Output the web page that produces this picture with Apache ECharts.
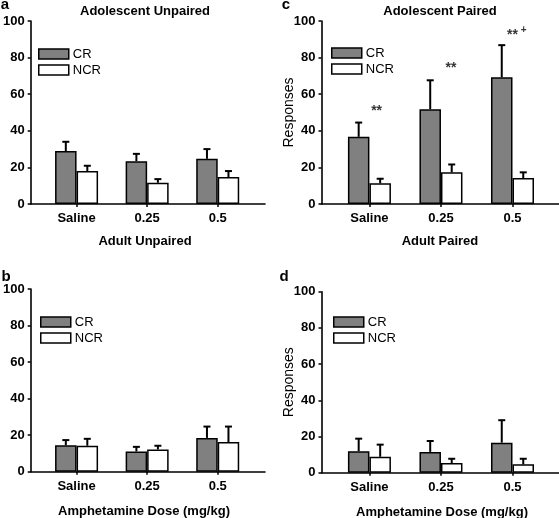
<!DOCTYPE html>
<html>
<head>
<meta charset="utf-8">
<script src="https://cdn.jsdelivr.net/npm/echarts@6/dist/echarts.min.js"></script>
<style>
html,body{margin:0;padding:0;background:#fff;}
#chart{width:559px;height:518px;}
</style>
</head>
<body>
<div id="chart"></div>
<script>
// ---- data ----
const categories = ['Saline', '0.25', '0.5'];
const legendNames = ['CR', 'NCR'];

// Panel a: Adolescent Unpaired
const aCR = [28.9, 23.4, 24.7];
const aCRsem = [5.1, 4.0, 5.3];
const aNCR = [18.0, 11.6, 14.7];
const aNCRsem = [2.9, 2.0, 3.3];

// Panel c: Adolescent Paired
const cCR = [36.7, 51.8, 69.2];
const cCRsem = [7.8, 15.8, 17.6];
const cNCR = [11.3, 17.3, 14.2];
const cNCRsem = [2.5, 4.3, 3.1];

// Panel b: Adult Unpaired
const bCR = [14.5, 11.1, 18.5];
const bCRsem = [2.8, 2.5, 6.2];
const bNCR = [14.2, 12.2, 16.2];
const bNCRsem = [3.8, 2.0, 8.5];

// Panel d: Adult Paired
const dCR = [11.9, 11.5, 16.6];
const dCRsem = [6.9, 6.0, 12.4];
const dNCR = [8.8, 5.3, 4.6];
const dNCRsem = [6.7, 2.4, 3.1];

// significance markers in panel c (x position in category units, y in response units)
const sigX = [0.1, 1.14, 2.0];
const sigY = [52.2, 75.7, 93.7];
const sigText = ['**', '**', '**'];
const plusX = [2.155];
const plusY = [95.0];
const plusText = ['+'];

// ---- styling ----
const FONT = 'Liberation Sans, Arial, sans-serif';
const BAR_W = 21.5;
const GREY = '#808080';

const chart = echarts.init(document.getElementById('chart'), null, {renderer: 'canvas'});

const grids = [
  {left: 28, top: 21, width: 237, height: 183},
  {left: 321.5, top: 21, width: 237.5, height: 183},
  {left: 28, top: 289, width: 237, height: 182.7},
  {left: 321.5, top: 291.7, width: 237.5, height: 181}
];
const xRanges = [[-0.65, 2.67], [-0.67, 2.65], [-0.65, 2.67], [-0.67, 2.65]];
const yNames = ['', 'Responses', '', 'Responses'];

const panels = [
  [aCR, aCRsem, aNCR, aNCRsem],
  [cCR, cCRsem, cNCR, cNCRsem],
  [bCR, bCRsem, bNCR, bNCRsem],
  [dCR, dCRsem, dNCR, dNCRsem]
];

const xAxes = grids.map((g, i) => ({
  type: 'value', gridIndex: i, min: xRanges[i][0], max: xRanges[i][1],
  axisLine: {show: true, onZero: false, lineStyle: {color: '#000', width: 1.6}},
  axisTick: {show: true, customValues: [0, 1, 2], length: 3, lineStyle: {color: '#000', width: 1.5}},
  axisLabel: {customValues: [0, 1, 2], formatter: v => categories[Math.round(v)],
    color: '#000', fontFamily: FONT, fontWeight: 'bold', fontSize: 13, margin: 8},
  splitLine: {show: false}
}));

const yAxes = grids.map((g, i) => ({
  type: 'value', gridIndex: i, min: 0, max: 100, interval: 20,
  name: yNames[i], nameLocation: 'middle', nameGap: 25, nameRotate: 90, nameMoveOverlap: false,
  nameTextStyle: {color: '#000', fontFamily: FONT, fontSize: 14},
  axisLine: {show: true, onZero: false, lineStyle: {color: '#000', width: 1.6}},
  axisTick: {show: true, length: 3, lineStyle: {color: '#000', width: 1.5}},
  axisLabel: {color: '#000', fontFamily: FONT, fontWeight: 'bold', fontSize: 13, margin: 6},
  splitLine: {show: false}
}));

function errSeries(i, means, sems, offset) {
  return {
    type: 'custom', xAxisIndex: i, yAxisIndex: i, z: 1,
    data: means.map((m, k) => [k, m, m + sems[k]]),
    renderItem: function (params, api) {
      const p0 = api.coord([api.value(0), api.value(1)]);
      const p1 = api.coord([api.value(0), api.value(2)]);
      const x = p0[0] + offset;
      const st = {stroke: '#000', lineWidth: 2};
      return {type: 'group', children: [
        {type: 'line', shape: {x1: x, y1: p0[1], x2: x, y2: p1[1]}, style: st},
        {type: 'line', shape: {x1: x - 3.5, y1: p1[1], x2: x + 3.5, y2: p1[1]}, style: st}
      ]};
    }
  };
}

const series = [];
panels.forEach((p, i) => {
  series.push({
    name: 'CR', type: 'bar', xAxisIndex: i, yAxisIndex: i, barWidth: BAR_W, barGap: '0%', z: 2,
    data: p[0].map((v, k) => [k, v]),
    itemStyle: {color: GREY, borderColor: '#000', borderWidth: 1.5}
  });
  series.push({
    name: 'NCR', type: 'bar', xAxisIndex: i, yAxisIndex: i, barWidth: BAR_W, barGap: '0%', z: 2,
    data: p[2].map((v, k) => [k, v]),
    itemStyle: {color: '#fff', borderColor: '#000', borderWidth: 1.5}
  });
  series.push(errSeries(i, p[0], p[1], -BAR_W / 2));
  series.push(errSeries(i, p[2], p[3], BAR_W / 2));
});

series.push({
  type: 'scatter', xAxisIndex: 1, yAxisIndex: 1, symbolSize: 1, z: 5,
  itemStyle: {color: 'rgba(0,0,0,0)'},
  data: sigX.map((x, k) => ({value: [x, sigY[k]], label: {formatter: sigText[k]}})),
  label: {show: true, position: 'inside', offset: [0, 3], color: '#000', fontFamily: FONT, fontWeight: 'bold', fontSize: 14}
});
series.push({
  type: 'scatter', xAxisIndex: 1, yAxisIndex: 1, symbolSize: 1, z: 5,
  itemStyle: {color: 'rgba(0,0,0,0)'},
  data: plusX.map((x, k) => ({value: [x, plusY[k]], label: {formatter: plusText[k]}})),
  label: {show: true, position: 'inside', color: '#000', fontFamily: FONT, fontWeight: 'bold', fontSize: 10}
});

const legendPos = [[38, 47], [331, 46], [40, 315], [333, 315]];
const legends = legendPos.map(pp => ({
  data: legendNames, orient: 'vertical', left: pp[0], top: pp[1], padding: 0,
  itemWidth: 30, itemHeight: 10, itemGap: 2, icon: 'rect', selectedMode: false,
  itemStyle: {borderColor: '#000', borderWidth: 1.5},
  textStyle: {color: '#000', fontFamily: FONT, fontSize: 13, lineHeight: 14, padding: [0, 0, 0, -1]}
}));

function txt(text, x, y, size, weight) {
  return {type: 'text', x: x, y: y, silent: true,
    style: {text: text, fill: '#000', font: (weight || 'bold') + ' ' + size + 'px ' + FONT, align: 'center', verticalAlign: 'middle'}};
}

const graphics = [
  txt('a', 5, 5, 15), txt('Adolescent Unpaired', 145, 11, 13), txt('Adult Unpaired', 145, 241, 13),
  txt('c', 286, 5, 15), txt('Adolescent Paired', 440, 11, 13), txt('Adult Paired', 440, 241, 13),
  txt('b', 6, 277, 15), txt('Amphetamine Dose (mg/kg)', 144, 511, 13),
  txt('d', 284, 277, 15), txt('Amphetamine Dose (mg/kg)', 442, 512, 13)
];

chart.setOption({
  animation: false,
  backgroundColor: '#fff',
  grid: grids,
  xAxis: xAxes,
  yAxis: yAxes,
  legend: legends,
  series: series,
  graphic: graphics
});
</script>
</body>
</html>
